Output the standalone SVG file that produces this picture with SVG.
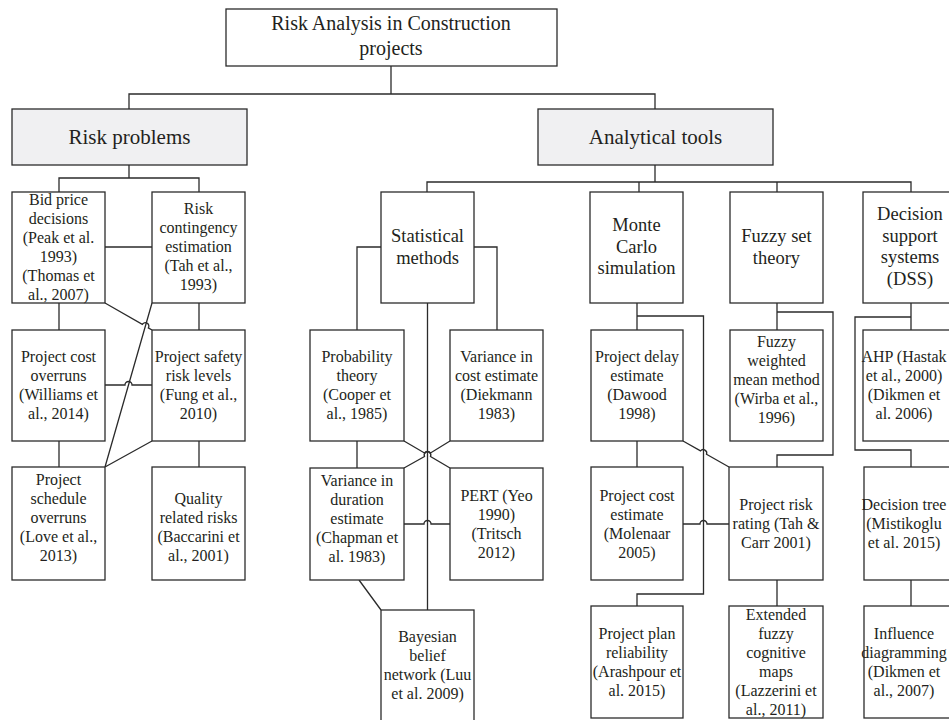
<svg xmlns="http://www.w3.org/2000/svg" width="949" height="720" viewBox="0 0 949 720">
<style>
rect{fill:#fff;stroke:#2b2b2b;stroke-width:1.3}
rect.h{fill:#f0f0f2}
text{font-family:"Liberation Serif","Times New Roman",serif;fill:#231f20;text-anchor:middle;font-size:16px}
.t1{font-size:20px}
.t2{font-size:21px}
.t3{font-size:18.5px}
#connectors path{fill:none;stroke:#2b2b2b;stroke-width:1.3}
</style>
<rect x="0" y="0" width="949" height="720" style="fill:#fff;stroke:none"/>
<g id="connectors">
<path d="M391 66V94M129 109V94H655V109M655 165V182M427 192V182H911V192M639 182V192M777 182V192"/>
<path d="M129 165V178M59 192V178H199V192"/>
<path d="M105 247H152M59 303V330M199 303V330M59 441V467M199 441V467M152 441L105 467M152 303L105 467"/>
<path d="M105 303L142.3 324.4A3.5 3.5 0 0 1 148.4 327.9L152 330"/>
<path d="M105 385H125A3.5 3.5 0 0 1 132 385H152"/>
<path d="M381 247H357V330M474 247H497V330M427.5 303V610M357 441V468M359 580L381 610"/>
<path d="M404 441L424.5 453A3.5 3.5 0 0 1 430.5 456.5L450 468"/>
<path d="M450 441L430.5 453A3.5 3.5 0 0 0 424.5 456.5L404 468"/>
<path d="M404 524H424A3.5 3.5 0 0 1 431 524H450"/>
<path d="M637 303V330M637 441V467M637 316H703.5V594H637V606"/>
<path d="M683 441L700.5 450.9A3.5 3.5 0 0 1 706.5 454.3L729 467"/>
<path d="M683 524H700A3.5 3.5 0 0 1 707 524H729"/>
<path d="M777 303V330M777 312H833V455H777V467M777 580V606"/>
<path d="M911 303V330M911 317H855V450H911V467M911 580V606"/>
</g>
<g id="root"><rect x="226" y="9" width="331" height="57"/><text class="t1" x="391" y="30">Risk Analysis in Construction</text><text class="t1" x="391" y="55">projects</text></g>
<g id="risk-problems"><rect class="h" x="12" y="109" width="235" height="56"/><text class="t2" x="129.5" y="144">Risk problems</text></g>
<g id="analytical-tools"><rect class="h" x="538" y="109" width="235" height="56"/><text class="t2" x="655.5" y="144">Analytical tools</text></g>

<g id="bid-price"><rect x="12" y="192" width="93" height="111"/><text x="58.5" y="205"><tspan x="58.5">Bid price</tspan><tspan x="58.5" dy="19">decisions</tspan><tspan x="58.5" dy="19">(Peak et al.</tspan><tspan x="58.5" dy="19">1993)</tspan><tspan x="58.5" dy="19">(Thomas et</tspan><tspan x="58.5" dy="19">al., 2007)</tspan></text></g>
<g id="risk-contingency"><rect x="152" y="192" width="93" height="111"/><text x="198.5" y="214"><tspan x="198.5">Risk</tspan><tspan x="198.5" dy="19">contingency</tspan><tspan x="198.5" dy="19">estimation</tspan><tspan x="198.5" dy="19">(Tah et al.,</tspan><tspan x="198.5" dy="19">1993)</tspan></text></g>
<g id="cost-overruns"><rect x="12" y="330" width="93" height="111"/><text x="58.5" y="362"><tspan x="58.5">Project cost</tspan><tspan x="58.5" dy="19">overruns</tspan><tspan x="58.5" dy="19">(Williams et</tspan><tspan x="58.5" dy="19">al., 2014)</tspan></text></g>
<g id="safety-risk"><rect x="152" y="330" width="93" height="111"/><text x="198.5" y="362"><tspan x="198.5">Project safety</tspan><tspan x="198.5" dy="19">risk levels</tspan><tspan x="198.5" dy="19">(Fung et al.,</tspan><tspan x="198.5" dy="19">2010)</tspan></text></g>
<g id="schedule-overruns"><rect x="12" y="467" width="93" height="113"/><text x="58.5" y="485"><tspan x="58.5">Project</tspan><tspan x="58.5" dy="19">schedule</tspan><tspan x="58.5" dy="19">overruns</tspan><tspan x="58.5" dy="19">(Love et al.,</tspan><tspan x="58.5" dy="19">2013)</tspan></text></g>
<g id="quality-risks"><rect x="152" y="467" width="93" height="113"/><text x="198.5" y="504"><tspan x="198.5">Quality</tspan><tspan x="198.5" dy="19">related risks</tspan><tspan x="198.5" dy="19">(Baccarini et</tspan><tspan x="198.5" dy="19">al., 2001)</tspan></text></g>

<g id="statistical"><rect x="381" y="192" width="93" height="111"/><text class="t3" x="427.5" y="242"><tspan x="427.5">Statistical</tspan><tspan x="427.5" dy="21.5">methods</tspan></text></g>
<g id="probability"><rect x="310" y="330" width="94" height="111"/><text x="357" y="362"><tspan x="357">Probability</tspan><tspan x="357" dy="19">theory</tspan><tspan x="357" dy="19">(Cooper et</tspan><tspan x="357" dy="19">al., 1985)</tspan></text></g>
<g id="variance-cost"><rect x="450" y="330" width="93" height="111"/><text x="496.5" y="362"><tspan x="496.5">Variance in</tspan><tspan x="496.5" dy="19">cost estimate</tspan><tspan x="496.5" dy="19">(Diekmann</tspan><tspan x="496.5" dy="19">1983)</tspan></text></g>
<g id="variance-duration"><rect x="310" y="468" width="94" height="112"/><text x="357" y="486"><tspan x="357">Variance in</tspan><tspan x="357" dy="19">duration</tspan><tspan x="357" dy="19">estimate</tspan><tspan x="357" dy="19">(Chapman et</tspan><tspan x="357" dy="19">al. 1983)</tspan></text></g>
<g id="pert"><rect x="450" y="468" width="93" height="112"/><text x="496.5" y="501"><tspan x="496.5">PERT (Yeo</tspan><tspan x="496.5" dy="19">1990)</tspan><tspan x="496.5" dy="19">(Tritsch</tspan><tspan x="496.5" dy="19">2012)</tspan></text></g>
<g id="bayesian"><rect x="381" y="610" width="93" height="112"/><text x="427.5" y="642"><tspan x="427.5">Bayesian</tspan><tspan x="427.5" dy="19">belief</tspan><tspan x="427.5" dy="19">network (Luu</tspan><tspan x="427.5" dy="19">et al. 2009)</tspan></text></g>

<g id="monte-carlo"><rect x="590" y="192" width="93" height="111"/><text class="t3" x="636.5" y="231"><tspan x="636.5">Monte</tspan><tspan x="636.5" dy="21.5">Carlo</tspan><tspan x="636.5" dy="21.5">simulation</tspan></text></g>
<g id="project-delay"><rect x="591" y="330" width="92" height="111"/><text x="637" y="362"><tspan x="637">Project delay</tspan><tspan x="637" dy="19">estimate</tspan><tspan x="637" dy="19">(Dawood</tspan><tspan x="637" dy="19">1998)</tspan></text></g>
<g id="project-cost-estimate"><rect x="591" y="467" width="92" height="113"/><text x="637" y="501"><tspan x="637">Project cost</tspan><tspan x="637" dy="19">estimate</tspan><tspan x="637" dy="19">(Molenaar</tspan><tspan x="637" dy="19">2005)</tspan></text></g>
<g id="project-plan"><rect x="591" y="606" width="92" height="112"/><text x="637" y="639"><tspan x="637">Project plan</tspan><tspan x="637" dy="19">reliability</tspan><tspan x="637" dy="19">(Arashpour et</tspan><tspan x="637" dy="19">al. 2015)</tspan></text></g>

<g id="fuzzy-set"><rect x="730" y="192" width="93" height="111"/><text class="t3" x="776.5" y="242"><tspan x="776.5">Fuzzy set</tspan><tspan x="776.5" dy="21.5">theory</tspan></text></g>
<g id="fuzzy-weighted"><rect x="730" y="330" width="93" height="111"/><text x="776.5" y="347"><tspan x="776.5">Fuzzy</tspan><tspan x="776.5" dy="19">weighted</tspan><tspan x="776.5" dy="19">mean method</tspan><tspan x="776.5" dy="19">(Wirba et al.,</tspan><tspan x="776.5" dy="19">1996)</tspan></text></g>
<g id="risk-rating"><rect x="729" y="467" width="94" height="113"/><text x="776" y="510"><tspan x="776">Project risk</tspan><tspan x="776" dy="19">rating (Tah &amp;</tspan><tspan x="776" dy="19">Carr 2001)</tspan></text></g>
<g id="extended-fuzzy"><rect x="729" y="606" width="94" height="112"/><text x="776" y="620"><tspan x="776">Extended</tspan><tspan x="776" dy="19">fuzzy</tspan><tspan x="776" dy="19">cognitive</tspan><tspan x="776" dy="19">maps</tspan><tspan x="776" dy="19">(Lazzerini et</tspan><tspan x="776" dy="19">al., 2011)</tspan></text></g>

<g id="dss"><rect x="863" y="192" width="94" height="111"/><text class="t3" x="910" y="220"><tspan x="910">Decision</tspan><tspan x="910" dy="21.5">support</tspan><tspan x="910" dy="21.5">systems</tspan><tspan x="910" dy="21.5">(DSS)</tspan></text></g>
<g id="ahp"><rect x="863" y="330" width="94" height="111"/><text x="904" y="362"><tspan x="904">AHP (Hastak</tspan><tspan x="904" dy="19">et al., 2000)</tspan><tspan x="904" dy="19">(Dikmen et</tspan><tspan x="904" dy="19">al. 2006)</tspan></text></g>
<g id="decision-tree"><rect x="864" y="467" width="93" height="113"/><text x="904" y="510"><tspan x="904">Decision tree</tspan><tspan x="904" dy="19">(Mistikoglu</tspan><tspan x="904" dy="19">et al. 2015)</tspan></text></g>
<g id="influence"><rect x="864" y="606" width="93" height="112"/><text x="904" y="639"><tspan x="904">Influence</tspan><tspan x="904" dy="19">diagramming</tspan><tspan x="904" dy="19">(Dikmen et</tspan><tspan x="904" dy="19">al., 2007)</tspan></text></g>
</svg>
